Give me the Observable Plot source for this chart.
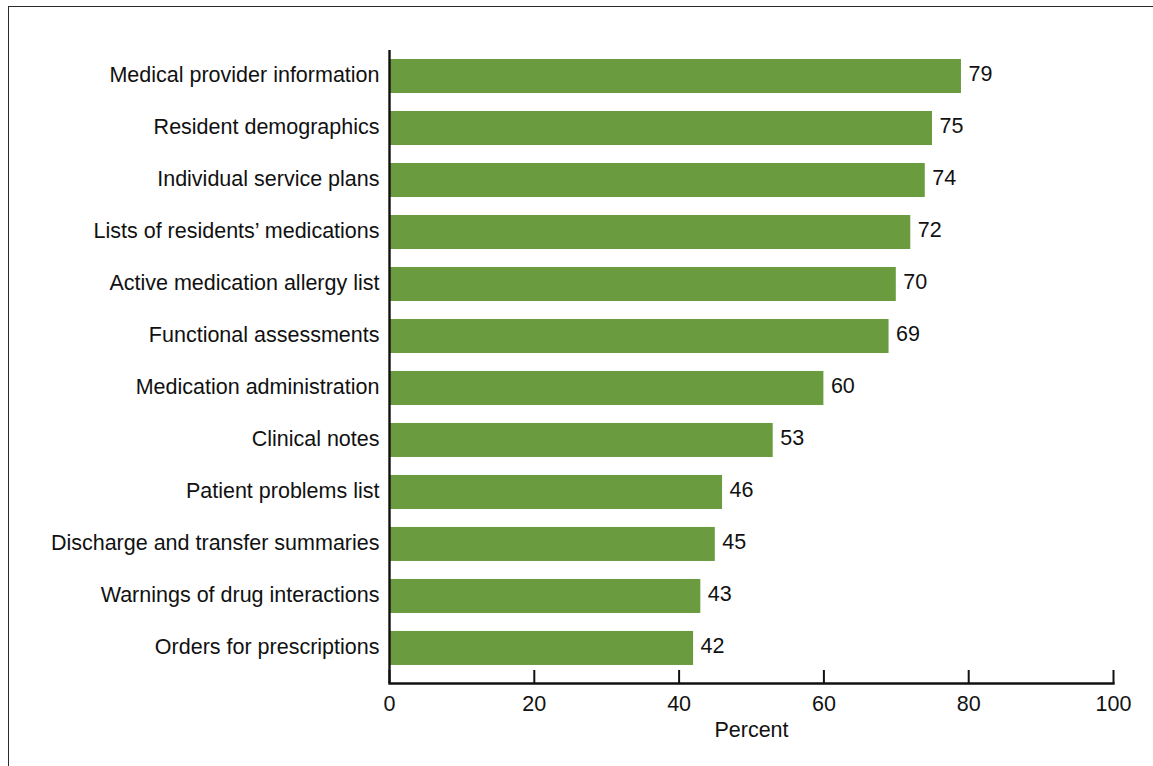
<!DOCTYPE html>
<html>
<head>
<meta charset="utf-8">
<script src="https://cdn.jsdelivr.net/npm/d3@7"></script>
<script src="https://cdn.jsdelivr.net/npm/@observablehq/plot@0.6"></script>
<style>
  html, body { margin: 0; padding: 0; background: #fff; overflow: hidden; }
  #wrap { position: relative; width: 1153px; height: 766px; }
  #border {
    position: absolute; left: 8px; top: 6px; width: 1400px; height: 1000px;
    border: 1.6px solid #2a2a2a; box-sizing: border-box;
  }
  #chart { position: absolute; left: 0; top: 0; }
</style>
</head>
<body>
<div id="wrap">
  <div id="border"></div>
  <div id="chart"></div>
</div>
<script>
// Electronic record features, sorted from most to least common
const features = [
  "Medical provider information",
  "Resident demographics",
  "Individual service plans",
  "Lists of residents\u2019 medications",
  "Active medication allergy list",
  "Functional assessments",
  "Medication administration",
  "Clinical notes",
  "Patient problems list",
  "Discharge and transfer summaries",
  "Warnings of drug interactions",
  "Orders for prescriptions"
];
const percents = [79, 75, 74, 72, 70, 69, 60, 53, 46, 45, 43, 42];
const xTicks = [0, 20, 40, 60, 80, 100];

const rows = features.map((feature, i) => ({feature, percent: percents[i]}));

const ink = "#111";
const barGreen = "#6a9c3f";
const fs = 21.5;

const chart = Plot.plot({
  width: 1153,
  height: 766,
  marginLeft: 389,
  marginRight: 40,
  marginTop: 50,
  marginBottom: 83,
  style: {
    fontFamily: "'Liberation Sans', Arial, sans-serif",
    fontSize: fs + "px",
    color: ink,
    background: "transparent"
  },
  x: {domain: [0, 100]},
  y: {domain: features, paddingInner: 0.346, paddingOuter: 0.26, align: 0.333, round: false},
  marks: [
    Plot.barX(rows, {x: "percent", y: "feature", fill: barGreen}),
    Plot.text(rows, {
      x: "percent", y: "feature", text: d => String(d.percent),
      textAnchor: "start", dx: 7, dy: -2, fontSize: fs, fill: ink
    }),
    Plot.axisY({tickSize: 0, tickPadding: 10, label: null, fontSize: fs, dy: -1}),
    Plot.axisX({
      ticks: xTicks, tickSize: 0, tickPadding: 12, fontSize: fs,
      label: "Percent", labelAnchor: "center", labelArrow: "none", labelOffset: 53
    }),
    // inward-pointing tick marks on the percent axis
    Plot.ruleX(xTicks, {x: d => d, insetTop: 620, stroke: ink, strokeWidth: 2}),
    // axis lines
    Plot.ruleX([0], {stroke: ink, strokeWidth: 2.4}),
    Plot.frame({anchor: "bottom", stroke: ink, strokeWidth: 2.4})
  ]
});

document.getElementById("chart").appendChild(chart);
</script>
</body>
</html>
